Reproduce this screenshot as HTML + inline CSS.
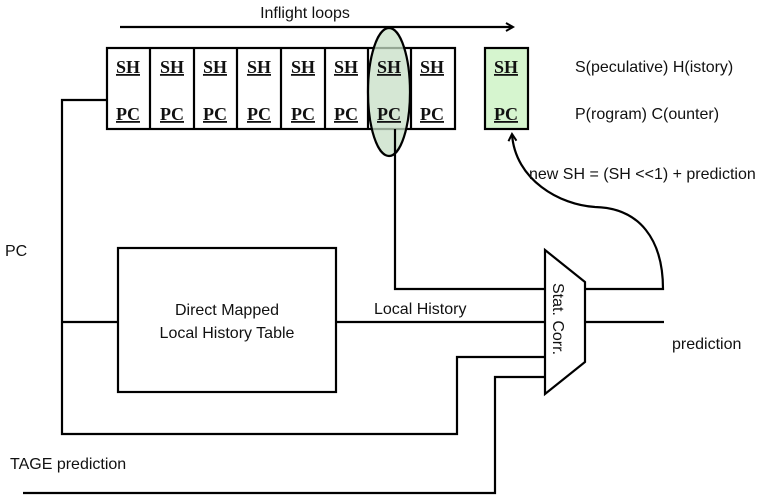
<!DOCTYPE html>
<html><head><meta charset="utf-8"><style>
html,body{margin:0;padding:0;background:#fff;}
svg{display:block;}
.s{font-family:"Liberation Sans",sans-serif;font-size:16px;fill:#111;}
.b{font-family:"Liberation Serif",serif;font-size:18px;font-weight:bold;fill:#111;text-decoration:underline;}
</style></head><body>
<svg width="784" height="504" viewBox="0 0 784 504" xmlns="http://www.w3.org/2000/svg">
<defs><marker id="a" markerWidth="10" markerHeight="10" refX="8" refY="5" orient="auto" markerUnits="userSpaceOnUse"><path d="M1,1 L8,5 L1,9" fill="none" stroke="#000" stroke-width="2"/></marker></defs>
<g fill="none" stroke="#000" stroke-width="2.2">
<line x1="120" y1="27" x2="513" y2="27" marker-end="url(#a)"/>
<rect x="107" y="48" width="348" height="81" fill="#fff"/>
<line x1="150" y1="48" x2="150" y2="129"/><line x1="194" y1="48" x2="194" y2="129"/>
<line x1="237" y1="48" x2="237" y2="129"/><line x1="281" y1="48" x2="281" y2="129"/>
<line x1="325" y1="48" x2="325" y2="129"/><line x1="368" y1="48" x2="368" y2="129"/>
<line x1="411" y1="48" x2="411" y2="129"/>
<rect x="485" y="48" width="43" height="81" fill="#d6f5cf"/>
<ellipse cx="389" cy="92" rx="21" ry="64" fill="#c7dfc5" fill-opacity="0.75"/>
<polyline points="107,100 62,100 62,434 457,434 457,357 545,357"/>
<polyline points="23,493 495,493 495,377 545,377"/>
<polyline points="395,129 395,289 545,289"/>
<line x1="62" y1="322" x2="118" y2="322"/>
<line x1="336" y1="322" x2="545" y2="322"/>
<line x1="585" y1="322" x2="664" y2="322"/>
<rect x="118" y="248" width="218" height="144" fill="#fff"/>
<polygon points="545,250 585,282 585,362 545,394" fill="#fff"/>
<path d="M585,289 L663,289 C663,240 640,208 595,207 C560,205 515,180 512,134" marker-end="url(#a)"/>
</g>
<text class="s" x="305" y="18" text-anchor="middle">Inflight loops</text>
<g class="b" text-anchor="middle">
<text x="128" y="73">SH</text><text x="172" y="73">SH</text><text x="215" y="73">SH</text><text x="259" y="73">SH</text><text x="303" y="73">SH</text><text x="346" y="73">SH</text><text x="389" y="73">SH</text><text x="432" y="73">SH</text><text x="506" y="73">SH</text>
<text x="128" y="120">PC</text><text x="172" y="120">PC</text><text x="215" y="120">PC</text><text x="259" y="120">PC</text><text x="303" y="120">PC</text><text x="346" y="120">PC</text><text x="389" y="120">PC</text><text x="432" y="120">PC</text><text x="506" y="120">PC</text>
</g>
<text class="s" x="575" y="72">S(peculative) H(istory)</text>
<text class="s" x="575" y="119">P(rogram) C(ounter)</text>
<text class="s" x="529" y="179">new SH = (SH &lt;&lt;1) + prediction</text>
<text class="s" x="5" y="256">PC</text>
<text class="s" x="227" y="315" text-anchor="middle">Direct Mapped</text>
<text class="s" x="227" y="338" text-anchor="middle">Local History Table</text>
<text class="s" x="374" y="314">Local History</text>
<text class="s" x="672" y="349">prediction</text>
<text class="s" x="10" y="469">TAGE prediction</text>
<text class="s" transform="translate(553,283) rotate(90)">Stat. Corr.</text>
</svg>
</body></html>
